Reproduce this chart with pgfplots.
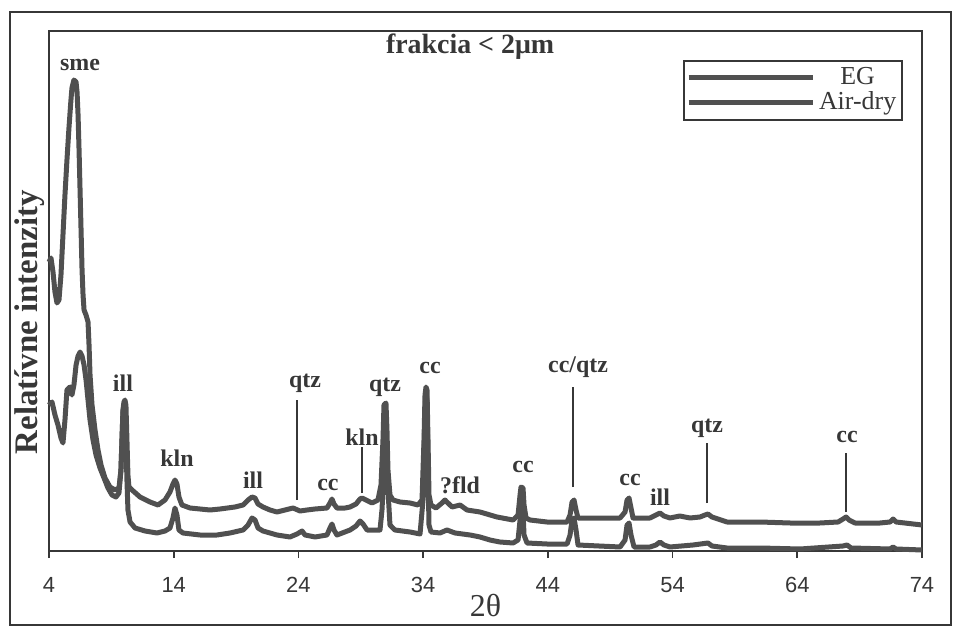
\documentclass[border=0pt]{standalone}
\usepackage{fontspec}
\setmainfont{Liberation Serif}
\newfontfamily\arial{Liberation Sans}
\usepackage{pgfplots}
\pgfplotsset{compat=1.18}

\definecolor{scan}{RGB}{80,80,80}
\definecolor{ink}{RGB}{55,55,55}
\tikzset{peak/.style={font=\bfseries\fontsize{12}{12}\selectfont, text=ink, inner sep=0pt}}
\pgfplotsset{trace/.style={scan, line width=2.5bp, line join=round, no marks}}

\begin{document}
\begin{tikzpicture}
\useasboundingbox (0,0) rectangle (476.5bp,315.5bp);
% outer frame of the scanned figure
\draw[ink, line width=1.2bp] (5bp,3bp) rectangle (475.5bp,309.5bp);
\begin{axis}[
  at={(24.5bp,40bp)}, anchor=south west,
  scale only axis, width=436.5bp, height=260bp,
  xmin=4, xmax=74, ymin=0, ymax=520,
  clip=false,
  axis line style={draw=ink, line width=0.8bp},
  xtick={4,14,...,74}, xticklabels={4,14,24,34,44,54,64,74},
  ytick=\empty, xtick pos=lower, tick align=outside,
  major tick length=3.5bp,
  tick style={draw=ink, line width=0.8bp},
  xticklabel style={font=\arial\fontsize{11}{11}\selectfont, text=ink, yshift=-6bp},
  xlabel={2θ},
  xlabel style={at={(axis description cs:0.5,-0.104)}, anchor=center,
    font=\fontsize{16}{16}\selectfont, text=ink},
  ylabel={Relatívne intenzity},
  ylabel style={at={(axis description cs:-0.022,0.44)}, anchor=center,
    font=\bfseries\fontsize{16.5}{16.5}\selectfont, text=ink},
  legend style={at={(1,1)}, anchor=north east, xshift=-9.5bp, yshift=-14.5bp,
    draw=ink, line width=0.8bp, font=\fontsize{13}{13}\selectfont,
    text=ink, inner xsep=1bp, inner ysep=1.5bp, row sep=-2bp,
    cells={anchor=center}},
  legend image code/.code={\draw[scan, line width=2.5bp] (0bp,0bp) -- (62bp,0bp);},
]
% EG
\addplot[trace] coordinates {
(4.00,289) (4.16,293) (4.32,279) (4.48,259) (4.64,248) (4.80,251) (4.96,276)
(5.12,316) (5.28,356) (5.44,391) (5.60,423) (5.76,451) (5.84,463) (6.00,471)
(6.17,469) (6.25,459) (6.33,436) (6.41,401) (6.49,361) (6.57,321) (6.65,281)
(6.73,256) (6.81,241) (6.97,236) (7.13,229) (7.21,206) (7.29,176) (7.45,146)
(7.69,121) (7.93,101) (8.17,86) (8.49,73) (8.89,64) (9.29,61) (9.61,63)
(9.77,81) (9.85,111) (9.93,141) (10.01,149) (10.09,151) (10.17,146) (10.25,111)
(10.33,76) (10.41,64) (10.66,61) (11.30,54) (12.10,49) (12.74,46) (13.30,51)
(13.70,59) (13.94,67) (14.10,71) (14.26,67) (14.42,54) (14.66,46) (15.31,43)
(16.11,42) (16.91,41) (17.71,42) (18.91,44) (19.56,46) (19.96,51) (20.28,54)
(20.52,53) (20.76,47) (21.16,44) (21.72,41) (22.28,39) (22.92,41) (23.57,43)
(24.13,40) (24.69,41) (25.33,42) (26.29,43) (26.53,48) (26.69,52) (26.85,47)
(27.09,43) (27.74,43) (28.14,44) (28.62,47) (28.94,52) (29.10,53) (29.42,51)
(29.90,48) (30.38,51) (30.62,66) (30.78,111) (30.86,146) (31.02,148) (31.10,121)
(31.18,81) (31.34,56) (31.58,51) (32.15,49) (32.95,48) (33.59,46) (33.91,51)
(34.07,111) (34.15,156) (34.23,164) (34.31,161) (34.39,111) (34.47,56) (34.63,46)
(35.03,43) (35.51,48) (35.75,51) (35.99,48) (36.32,44) (36.96,46) (37.52,41)
(38.56,39) (39.92,34) (41.21,31) (41.61,36) (41.77,56) (41.85,64) (42.01,63)
(42.09,46) (42.25,33) (42.57,31) (43.93,29) (45.54,29) (45.78,36) (45.94,49)
(46.10,51) (46.26,41) (46.42,33) (47.38,33) (49.79,33) (50.19,39) (50.35,51)
(50.51,53) (50.67,43) (50.83,33) (52.19,33) (52.67,36) (52.99,38) (53.31,35)
(53.79,33) (54.59,35) (55.40,33) (56.20,34) (56.60,36) (56.84,37) (57.16,34)
(58.37,29) (61.01,29) (63.42,28) (65.82,28) (67.27,29) (67.67,32) (67.91,34)
(68.15,31) (68.63,28) (70.64,28) (71.44,29) (71.68,32) (71.92,29) (74.00,26)
};
% Air-dry
\addplot[trace] coordinates {
(4.00,146) (4.24,149) (4.48,136) (4.72,126) (4.96,113) (5.12,108) (5.28,131)
(5.44,161) (5.68,164) (5.84,156) (6.00,166) (6.17,186) (6.33,195) (6.49,199)
(6.65,195) (6.81,186) (6.97,171) (7.13,151) (7.29,131) (7.53,111) (7.77,96)
(8.09,83) (8.41,73) (8.73,63) (9.05,56) (9.37,54) (9.61,58) (9.77,81)
(9.85,111) (9.93,139) (10.01,146) (10.09,143) (10.17,111) (10.25,71) (10.33,41)
(10.50,29) (10.90,23) (11.70,20) (12.66,18) (13.30,20) (13.70,23) (13.94,33)
(14.10,43) (14.26,36) (14.42,21) (14.74,18) (16.11,16) (17.47,16) (18.51,18)
(19.56,21) (19.96,26) (20.28,33) (20.52,31) (20.76,23) (21.16,20) (22.28,16)
(23.32,14) (23.89,17) (24.29,20) (24.53,16) (25.33,14) (26.29,16) (26.53,23)
(26.69,27) (26.85,21) (27.09,16) (28.14,21) (28.62,25) (28.94,30) (29.18,27)
(29.50,21) (30.54,21) (30.70,41) (30.86,81) (31.02,101) (31.10,96) (31.18,61)
(31.34,26) (31.74,21) (32.95,19) (33.75,17) (33.99,51) (34.15,141) (34.23,159)
(34.31,151) (34.39,81) (34.47,26) (34.63,19) (35.35,18) (35.91,21) (36.56,18)
(37.76,16) (38.56,14) (39.36,11) (40.16,9) (41.21,8) (41.61,11) (41.77,31)
(41.85,43) (42.01,39) (42.09,16) (42.33,8) (43.93,7) (45.54,7) (45.78,16)
(45.94,31) (46.10,33) (46.26,21) (46.42,6) (49.79,4) (50.19,11) (50.35,26)
(50.51,28) (50.67,16) (50.91,4) (52.19,4) (52.67,6) (52.99,9) (53.31,6)
(53.79,4) (55.64,6) (56.84,8) (57.16,5) (58.37,3) (61.01,3) (64.22,2)
(67.67,5) (67.99,6) (68.31,3) (71.44,2) (71.68,4) (71.92,2) (74.00,1)
};
\legend{EG, Air-dry}

% title
\node[font=\bfseries\fontsize{14}{14}\selectfont, text=ink]
  at (axis cs:37.76,504) {frakcia < 2μm};

% peak markers
\draw[ink, line width=1bp] (axis cs:23.89,51) -- (axis cs:23.89,151);
\draw[ink, line width=1bp] (axis cs:29.10,58) -- (axis cs:29.10,104);
\draw[ink, line width=1bp] (axis cs:46.02,64) -- (axis cs:46.02,164);
\draw[ink, line width=1bp] (axis cs:56.76,48) -- (axis cs:56.76,108);
\draw[ink, line width=1bp] (axis cs:67.91,39) -- (axis cs:67.91,98);

% peak labels
\node[peak] at (axis cs:6.49,486) {sme};
\node[peak] at (axis cs:9.93,168) {ill};
\node[peak] at (axis cs:14.26,93) {kln};
\node[peak] at (axis cs:20.36,71) {ill};
\node[peak] at (axis cs:24.53,168) {qtz};
\node[peak] at (axis cs:26.37,66) {cc};
\node[peak] at (axis cs:29.10,114) {kln};
\node[peak] at (axis cs:30.94,164) {qtz};
\node[peak] at (axis cs:34.55,183) {cc};
\node[peak] at (axis cs:36.96,66) {?fld};
\node[peak] at (axis cs:42.01,84) {cc};
\node[peak] at (axis cs:46.42,184) {cc/qtz};
\node[peak] at (axis cs:50.59,71) {cc};
\node[peak] at (axis cs:52.99,54) {ill};
\node[peak] at (axis cs:56.76,123) {qtz};
\node[peak] at (axis cs:67.99,114) {cc};
\end{axis}
\end{tikzpicture}
\end{document}
